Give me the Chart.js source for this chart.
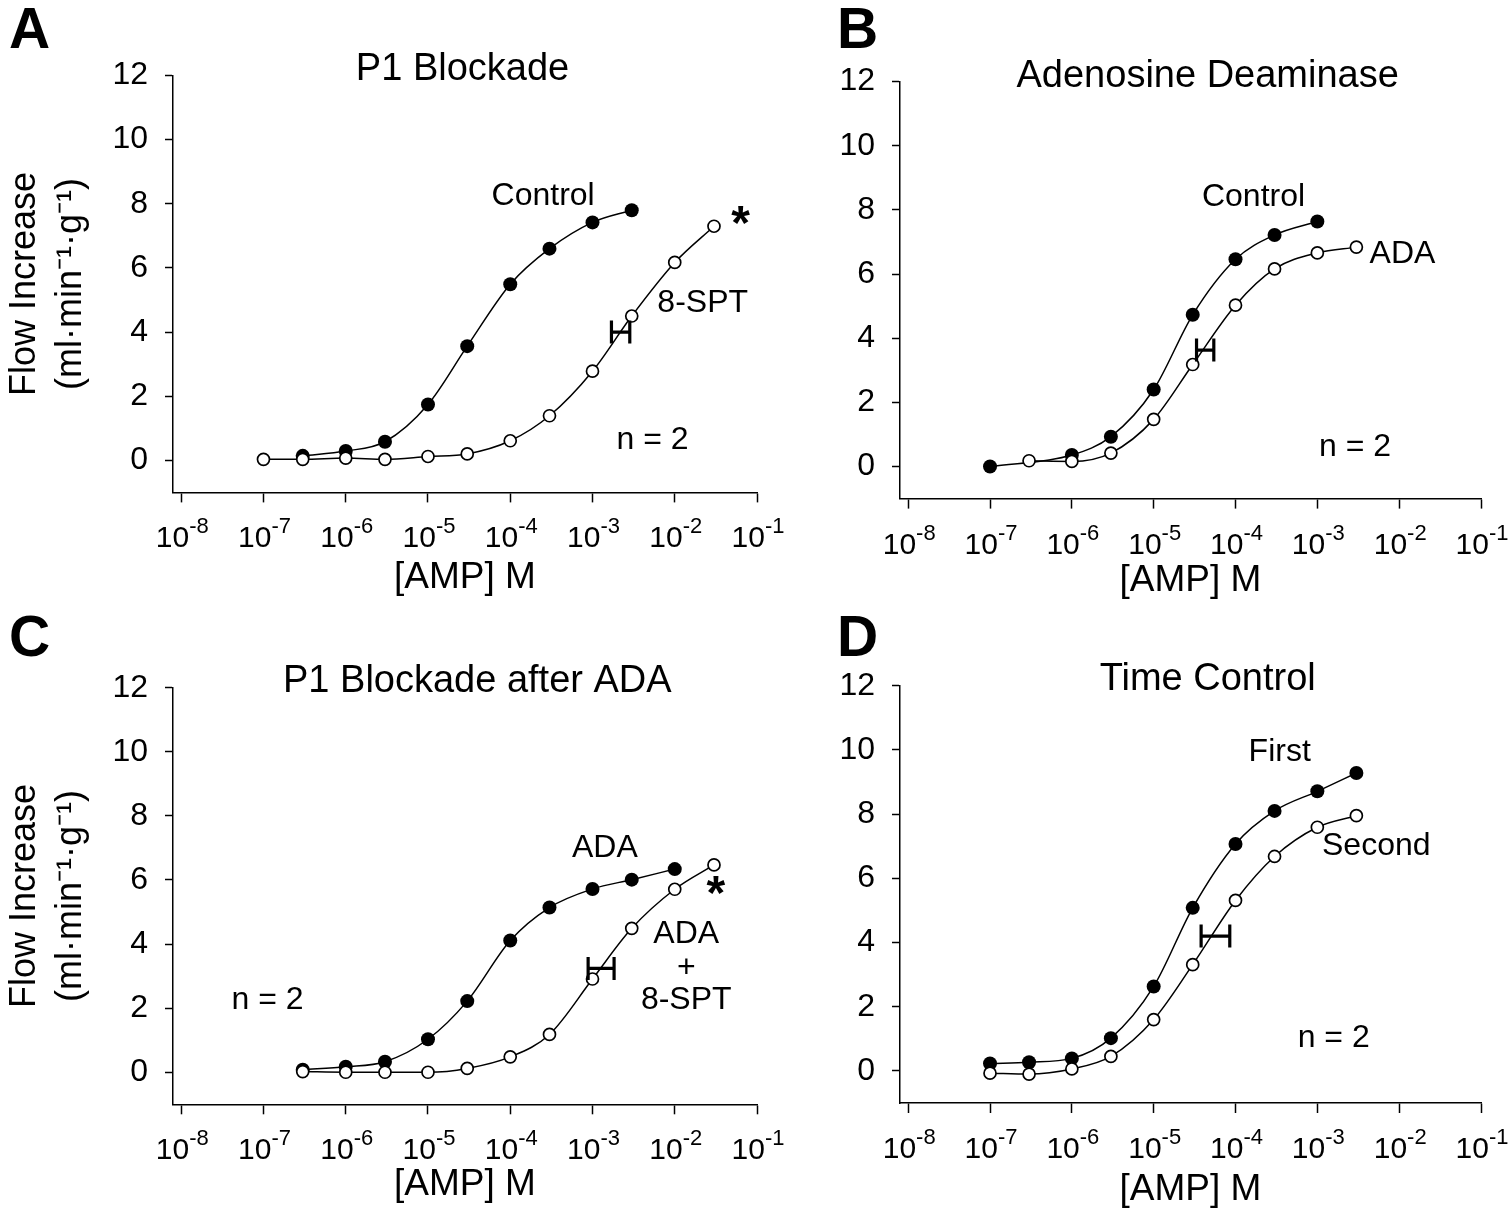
<!DOCTYPE html>
<html>
<head>
<meta charset="utf-8">
<script src="https://cdn.jsdelivr.net/npm/chart.js@4.4.1/dist/chart.umd.min.js"></script>
<style>
html, body { margin: 0; padding: 0; background: #ffffff; }
#wrap { position: relative; width: 1512px; height: 1219px; overflow: hidden; background: #ffffff; }
#wrap canvas { position: absolute; left: 0; top: 0; }
</style>
</head>
<body>
<div id="wrap">
  <canvas id="cA" width="1512" height="1219"></canvas>
  <canvas id="cB" width="1512" height="1219"></canvas>
  <canvas id="cC" width="1512" height="1219"></canvas>
  <canvas id="cD" width="1512" height="1219"></canvas>
</div>
<script>
// ---------------- DATA ----------------
const xTickValues = [1e-8, 1e-7, 1e-6, 1e-5, 1e-4, 1e-3, 1e-2, 1e-1];
const yTickValues = [0, 2, 4, 6, 8, 10, 12];
const xAxisTitle = '[AMP] M';
const yAxisTitle = ['Flow Increase', '(ml·min⁻¹·g⁻¹)'];

// Panel A: P1 Blockade
const A_title = 'P1 Blockade';
const A_controlConc = [3e-7, 1e-6, 3e-6, 1e-5, 3e-5, 1e-4, 3e-4, 1e-3, 3e-3];
const A_controlFlow = [0.14, 0.29, 0.58, 1.74, 3.56, 5.49, 6.60, 7.42, 7.80];
const A_sptConc = [1e-7, 3e-7, 1e-6, 3e-6, 1e-5, 3e-5, 1e-4, 3e-4, 1e-3, 3e-3, 1e-2, 3e-2];
const A_sptFlow = [0.03, 0.03, 0.07, 0.03, 0.12, 0.20, 0.61, 1.39, 2.78, 4.50, 6.17, 7.30];
const A_ec50Range = [1.70e-3, 2.84e-3];
const A_ec50Flow = 4.0;

// Panel B: Adenosine Deaminase
const B_title = 'Adenosine Deaminase';
const B_controlConc = [1e-7, 1e-6, 3e-6, 1e-5, 3e-5, 1e-4, 3e-4, 1e-3];
const B_controlFlow = [0.0, 0.36, 0.93, 2.40, 4.73, 6.46, 7.22, 7.64];
const B_adaConc = [3e-7, 1e-6, 3e-6, 1e-5, 3e-5, 1e-4, 3e-4, 1e-3, 3e-3];
const B_adaFlow = [0.18, 0.16, 0.42, 1.47, 3.18, 5.03, 6.16, 6.66, 6.84];
const B_ec50Range = [3.34e-5, 5.43e-5];
const B_ec50Flow = 3.63;

// Panel C: P1 Blockade after ADA
const C_title = 'P1 Blockade after ADA';
const C_adaConc = [3e-7, 1e-6, 3e-6, 1e-5, 3e-5, 1e-4, 3e-4, 1e-3, 3e-3, 1e-2];
const C_adaFlow = [0.08, 0.17, 0.33, 1.03, 2.22, 4.11, 5.14, 5.72, 6.01, 6.34];
const C_adaSptConc = [3e-7, 1e-6, 3e-6, 1e-5, 3e-5, 1e-4, 3e-4, 1e-3, 3e-3, 1e-2, 3e-2];
const C_adaSptFlow = [0.02, 0.0, 0.0, 0.0, 0.12, 0.48, 1.18, 2.91, 4.49, 5.71, 6.47];
const C_ec50Range = [8.85e-4, 1.83e-3];
const C_ec50Flow = 3.24;

// Panel D: Time Control
const D_title = 'Time Control';
const D_firstConc = [1e-7, 3e-7, 1e-6, 3e-6, 1e-5, 3e-5, 1e-4, 3e-4, 1e-3, 3e-3];
const D_firstFlow = [0.23, 0.27, 0.39, 1.02, 2.63, 5.08, 7.07, 8.10, 8.71, 9.28];
const D_secondConc = [1e-7, 3e-7, 1e-6, 3e-6, 1e-5, 3e-5, 1e-4, 3e-4, 1e-3, 3e-3];
const D_secondFlow = [-0.07, -0.10, 0.06, 0.45, 1.60, 3.31, 5.31, 6.68, 7.59, 7.95];
const D_ec50Range = [3.80e-5, 8.51e-5];
const D_ec50Flow = 4.2;

// ---------------- RENDERING ----------------
const FONT = "'Liberation Sans', Arial, Helvetica, sans-serif";
function pts(xs, ys) { return xs.map((x, i) => ({ x: x, y: ys[i] })); }

function annotPlugin(spec) {
  return {
    id: 'annot_' + spec.letter,
    afterDatasetsDraw(chart) {
      const ctx = chart.ctx;
      const xs = chart.scales.x, ys = chart.scales.y;
      const px = lx => xs.getPixelForValue(Math.pow(10, lx));
      const py = v => ys.getPixelForValue(v);
      ctx.save();
      ctx.fillStyle = '#000';
      ctx.strokeStyle = '#000';
      // EC50 horizontal error bar ("H")
      const x1 = xs.getPixelForValue(spec.ec50[0]);
      const x2 = xs.getPixelForValue(spec.ec50[1]);
      const yy = py(spec.ec50y);
      ctx.lineWidth = 3.2;
      ctx.lineCap = 'butt';
      ctx.beginPath();
      ctx.moveTo(x1, yy); ctx.lineTo(x2, yy);
      ctx.moveTo(x1, yy - 11.5); ctx.lineTo(x1, yy + 11.5);
      ctx.moveTo(x2, yy - 11.5); ctx.lineTo(x2, yy + 11.5);
      ctx.stroke();
      // texts
      ctx.textAlign = 'center';
      ctx.textBaseline = 'middle';
      ctx.font = '38px ' + FONT;
      ctx.fillText(spec.title[0], px(spec.title[1]), py(spec.title[2]));
      ctx.font = '32px ' + FONT;
      spec.labels.forEach(l => ctx.fillText(l[0], px(l[1]), py(l[2])));
      ctx.font = 'bold 48px ' + FONT;
      ctx.textBaseline = 'alphabetic';
      spec.stars.forEach(s => ctx.fillText('*', px(s[0]), py(s[1]) + 27));
      ctx.restore();
    },
    afterDraw(chart) {
      const ctx = chart.ctx;
      const xs = chart.scales.x;
      ctx.save();
      ctx.fillStyle = '#000';
      // x tick labels: 10 with raised exponent
      const axisY = chart.chartArea.bottom;
      xs.ticks.forEach(t => {
        const e = String(Math.round(Math.log10(t.value)));
        const cx = xs.getPixelForValue(t.value);
        ctx.font = '30px ' + FONT;
        const wb = ctx.measureText('10').width;
        ctx.font = '22px ' + FONT;
        const we = ctx.measureText(e).width;
        const left = cx - (wb + we) / 2 + 1;
        ctx.textAlign = 'left';
        ctx.textBaseline = 'alphabetic';
        ctx.font = '30px ' + FONT;
        ctx.fillText('10', left, axisY + 55);
        ctx.font = '22px ' + FONT;
        ctx.fillText(e, left + wb, axisY + 41);
      });
      // panel letter
      ctx.font = 'bold 57px ' + FONT;
      ctx.textAlign = 'left';
      ctx.textBaseline = 'alphabetic';
      ctx.fillText(spec.letter, spec.letterPos[0], spec.letterPos[1]);
      ctx.restore();
    }
  };
}

function makePanel(id, g, s) {
  const axisColor = '#000';
  const cfg = {
    type: 'line',
    data: {
      datasets: [
        {
          data: pts(s.openX, s.openY),
          borderColor: '#000', borderWidth: 1.5,
          pointRadius: 6, pointHoverRadius: 6,
          pointBackgroundColor: '#fff', pointBorderColor: '#000', pointBorderWidth: 1.7,
          cubicInterpolationMode: 'monotone', fill: false, order: 0, clip: false
        },
        {
          data: pts(s.filledX, s.filledY),
          borderColor: '#000', borderWidth: 1.5,
          pointRadius: 7, pointHoverRadius: 7,
          pointBackgroundColor: '#000', pointBorderColor: '#000', pointBorderWidth: 0,
          cubicInterpolationMode: 'monotone', fill: false, order: 1, clip: false
        }
      ]
    },
    options: {
      responsive: false,
      animation: false,
      devicePixelRatio: 1,
      events: [],
      layout: { padding: { left: g.padLeft, top: g.top, right: g.padRight, bottom: g.padBottom } },
      plugins: { legend: { display: false }, tooltip: { enabled: false }, title: { display: false } },
      scales: {
        x: {
          type: 'logarithmic',
          position: 'bottom',
          min: Math.pow(10, -8.1),
          max: 0.1,
          afterBuildTicks: sc => { sc.ticks = xTickValues.map(v => ({ value: v })); },
          afterFit: sc => { sc.height = g.xH; },
          border: { display: true, color: axisColor, width: 1.5 },
          grid: { display: true, drawOnChartArea: false, drawTicks: true, tickLength: 10, tickWidth: 1.5, tickColor: axisColor },
          ticks: { display: false, autoSkip: false },
          title: { display: true, text: xAxisTitle, color: '#000', font: { family: FONT, size: 37 }, padding: { top: 0, bottom: 4 } }
        },
        y: {
          type: 'linear',
          position: 'left',
          min: -1, max: 12,
          afterBuildTicks: sc => { sc.ticks = yTickValues.map(v => ({ value: v })); },
          afterFit: sc => { sc.width = g.yW; },
          border: { display: true, color: axisColor, width: 1.5 },
          grid: { display: true, drawOnChartArea: false, drawTicks: true, tickLength: 8, tickWidth: 1.5, tickColor: axisColor },
          ticks: { padding: 17, color: '#000', font: { family: FONT, size: 32 } },
          title: g.yTitle ? {
            display: true, text: yAxisTitle, color: '#000',
            font: { family: FONT, size: 36, lineHeight: '46px' }, padding: { top: 2, bottom: 0 }
          } : { display: false }
        }
      }
    },
    plugins: [annotPlugin(s)]
  };
  return new Chart(document.getElementById(id), cfg);
}

// geometry of each panel (pixel layout)
makePanel('cA',
  { padLeft: 0, yW: 173, top: 75.5, padRight: 755, padBottom: 614.8, xH: 111.8, yTitle: true },
  { letter: 'A', letterPos: [9, 48],
    filledX: A_controlConc, filledY: A_controlFlow, openX: A_sptConc, openY: A_sptFlow,
    ec50: A_ec50Range, ec50y: A_ec50Flow,
    title: [A_title, -4.58, 12.19],
    labels: [['Control', -3.6, 8.23], ['8-SPT', -1.66, 4.9], ['n = 2', -2.27, 0.63]],
    stars: [[-1.2, 7.75]] });

makePanel('cB',
  { padLeft: 740, yW: 160, top: 81.6, padRight: 31, padBottom: 611.8, xH: 108.6, yTitle: false },
  { letter: 'B', letterPos: [837, 48],
    filledX: B_controlConc, filledY: B_controlFlow, openX: B_adaConc, openY: B_adaFlow,
    ec50: B_ec50Range, ec50y: B_ec50Flow,
    title: [B_title, -4.34, 12.17],
    labels: [['Control', -3.78, 8.4], ['ADA', -1.96, 6.61], ['n = 2', -2.54, 0.6]],
    stars: [] });

makePanel('cC',
  { padLeft: 0, yW: 173, top: 687.7, padRight: 755, padBottom: 7.8, xH: 106.9, yTitle: true },
  { letter: 'C', letterPos: [9, 656],
    filledX: C_adaConc, filledY: C_adaFlow, openX: C_adaSptConc, openY: C_adaSptFlow,
    ec50: C_ec50Range, ec50y: C_ec50Flow,
    title: [C_title, -4.4, 12.2],
    labels: [['ADA', -2.85, 7.0], ['ADA', -1.86, 4.31], ['+', -1.86, 3.25], ['8-SPT', -1.86, 2.25], ['n = 2', -6.95, 2.25]],
    stars: [[-1.5, 5.95]] });

makePanel('cD',
  { padLeft: 740, yW: 160, top: 685.7, padRight: 31, padBottom: 2.8, xH: 113.2, yTitle: false },
  { letter: 'D', letterPos: [837, 656],
    filledX: D_firstConc, filledY: D_firstFlow, openX: D_secondConc, openY: D_secondFlow,
    ec50: D_ec50Range, ec50y: D_ec50Flow,
    title: [D_title, -4.34, 12.2],
    labels: [['First', -3.46, 9.94], ['Second', -2.28, 7.0], ['n = 2', -2.8, 1.03]],
    stars: [] });
</script>
</body>
</html>
